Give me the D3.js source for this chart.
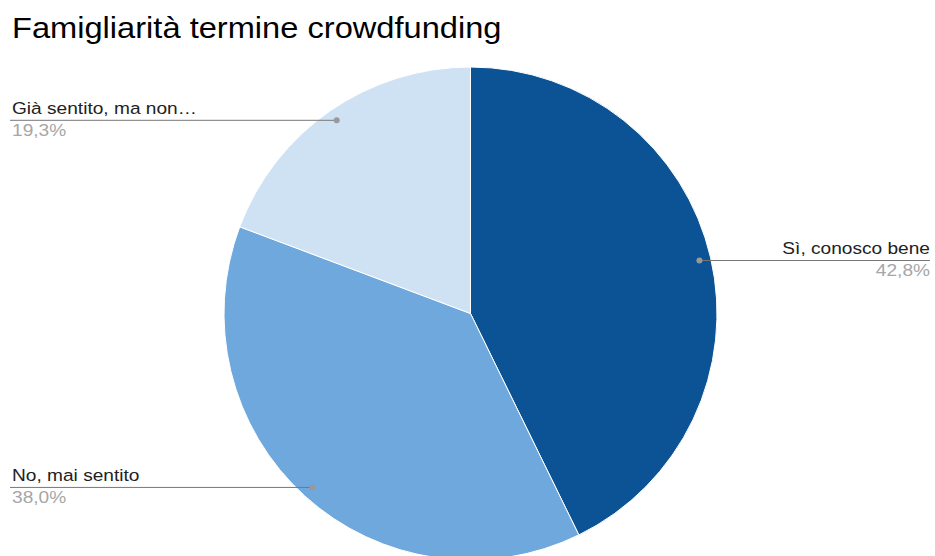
<!DOCTYPE html>
<html>
<head>
<meta charset="utf-8">
<script src="https://cdn.jsdelivr.net/npm/d3@7"></script>
<style>
  html, body { margin: 0; padding: 0; background: #fff; }
  svg { display: block; font-family: "Liberation Sans", Arial, sans-serif; }
</style>
</head>
<body>
<svg id="chart" width="935" height="556"></svg>
<script>
// Survey answers: share of respondents (%)
const categories = ["Sì, conosco bene", "No, mai sentito", "Già sentito, ma non…"];
const shares = [42.8, 38.0, 19.3];
const sliceColors = ["#0b5394", "#6fa8dc", "#cfe2f3"];
const title = "Famigliarità termine crowdfunding";

const width = 935, height = 556;
const cx = 470.5, cy = 313.5, radius = 246.5;
const stretch = 1.125; // horizontal widening of the lettering

const svg = d3.select("#chart");

svg.append("text")
  .attr("transform", `translate(12,38) scale(${stretch},1)`)
  .attr("font-size", 29)
  .attr("fill", "#000")
  .text(title);

const data = categories.map((c, i) => ({ name: c, value: shares[i], color: sliceColors[i] }));

const pie = d3.pie().sort(null).value(d => d.value).startAngle(0).endAngle(2 * Math.PI);
const arcs = pie(data);

const arc = d3.arc().innerRadius(0).outerRadius(radius);
const dotArc = d3.arc().innerRadius(235).outerRadius(235);

const g = svg.append("g").attr("transform", `translate(${cx},${cy})`);

g.selectAll("path.slice")
  .data(arcs)
  .join("path")
  .attr("class", "slice")
  .attr("d", arc)
  .attr("fill", d => d.data.color)
  .attr("stroke", "#fff")
  .attr("stroke-width", 1);

const fmt = v => d3.format(".1f")(v).replace(".", ",") + "%";

arcs.forEach(a => {
  const [dx, dy] = dotArc.centroid(a);
  const px = cx + dx, py = cy + dy;
  const right = px > cx;
  const x0 = right ? px : 10;
  const x1 = right ? 930 : px;

  svg.append("line")
    .attr("x1", x0).attr("x2", x1)
    .attr("y1", py).attr("y2", py)
    .attr("stroke", "#777")
    .attr("stroke-width", 1);

  svg.append("circle")
    .attr("cx", px).attr("cy", py).attr("r", 3)
    .attr("fill", "#999");

  const tx = right ? 930 : 12;
  const anchor = right ? "end" : "start";

  svg.append("text")
    .attr("transform", `translate(${tx},${py - 6}) scale(${stretch},1)`)
    .attr("text-anchor", anchor)
    .attr("font-size", 17)
    .attr("fill", "#222")
    .text(a.data.name);

  svg.append("text")
    .attr("transform", `translate(${tx},${py + 16}) scale(${stretch},1)`)
    .attr("text-anchor", anchor)
    .attr("font-size", 17)
    .attr("fill", "#a6a6a6")
    .text(fmt(a.data.value));
});
</script>
</body>
</html>
